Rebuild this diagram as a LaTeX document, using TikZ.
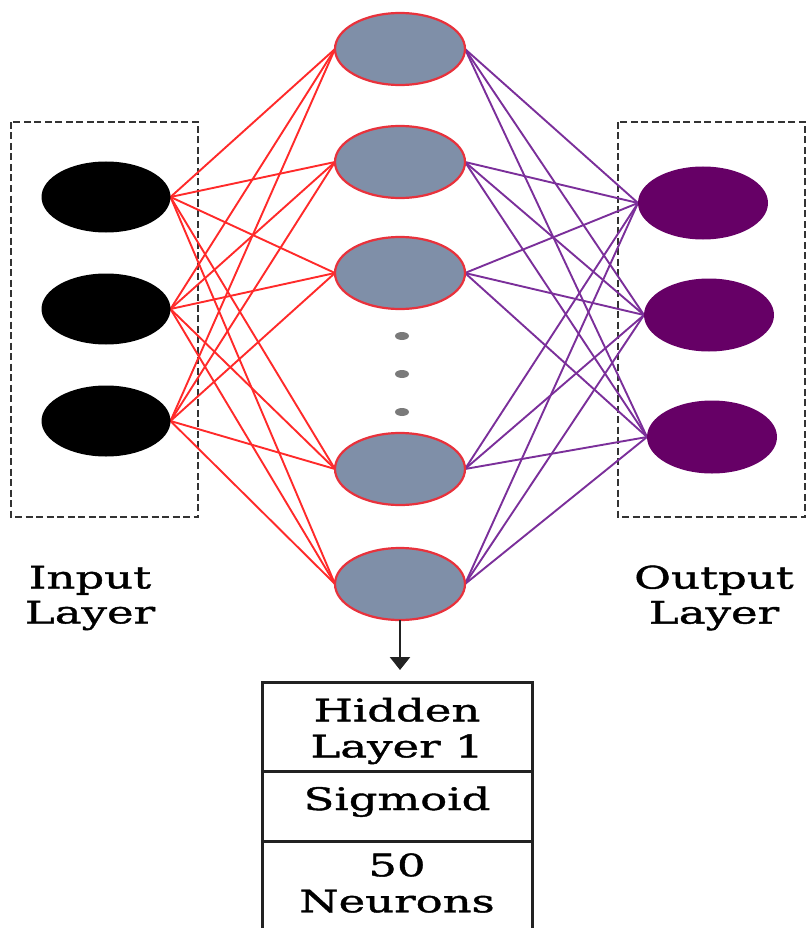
\documentclass[tikz,border=0pt]{standalone}
\usepackage{fontspec}
\setmainfont[FakeStretch=1.45,FakeBold=1.3]{DejaVu Serif}
\usetikzlibrary{shapes.geometric,arrows.meta,backgrounds}

\definecolor{hidfill}{HTML}{7F8FA8}
\definecolor{hidline}{HTML}{E8323C}
\definecolor{outfill}{HTML}{660066}
\definecolor{redline}{HTML}{FF2A2A}
\definecolor{purpline}{HTML}{7B2F9A}
\definecolor{framegray}{HTML}{333333}
\definecolor{tablegray}{HTML}{222222}
\definecolor{dotgray}{HTML}{7A7A7A}

\tikzset{
  neuron/.style={ellipse, minimum width=129pt, minimum height=71pt, inner sep=0pt, outer sep=0pt},
  inneuron/.style={neuron, fill=black},
  hidneuron/.style={neuron, minimum width=130pt, minimum height=72pt, fill=hidfill, draw=hidline, line width=2.2pt},
  outneuron/.style={neuron, minimum width=130pt, minimum height=73pt, fill=outfill},
  gapdot/.style={ellipse, minimum width=14pt, minimum height=8pt, inner sep=0pt, fill=dotgray},
  rededge/.style={draw=redline, line width=1.9pt},
  purpedge/.style={draw=purpline, line width=1.9pt},
  layerframe/.style={draw=framegray, line width=2.4pt, dash pattern=on 7pt off 3.5pt},
  tableline/.style={draw=tablegray, line width=3pt},
  label/.style={align=center, inner sep=0pt, font=\fontsize{31}{35}\selectfont},
  celltext/.style={align=center, inner sep=0pt, font=\fontsize{31}{36}\selectfont},
}

\begin{document}
\begin{tikzpicture}[x=1pt, y=-1pt]
\useasboundingbox (0,0) rectangle (807,928);

% input layer
\node[inneuron] (in1) at (106,197) {};
\node[inneuron] (in2) at (106,309) {};
\node[inneuron] (in3) at (106,421) {};

% hidden layer
\node[hidneuron] (h1) at (400,49) {};
\node[hidneuron] (h2) at (400,162) {};
\node[hidneuron] (h3) at (400,273) {};
\node[hidneuron] (h4) at (400,469) {};
\node[hidneuron] (h5) at (400,584) {};
\node[gapdot] (d1) at (402,336) {};
\node[gapdot] (d2) at (402,374) {};
\node[gapdot] (d3) at (402,412) {};

% output layer
\node[outneuron] (o1) at (703,203) {};
\node[outneuron] (o2) at (709,315) {};
\node[outneuron] (o3) at (712,437) {};

\begin{pgfonlayer}{background}
  \draw[layerframe] (11,122) rectangle (198,517);
  \draw[layerframe] (618,122) rectangle (805,517);
  \foreach \i in {1,2,3}
    \foreach \j in {1,...,5}
      \draw[rededge] (in\i.east) -- (h\j.west);
  \foreach \j in {1,...,5}
    \foreach \k in {1,2,3}
      \draw[purpedge] (h\j.east) -- (o\k.west);
\end{pgfonlayer}

% layer captions
\node[label] (inlabel) at (90,598) {Input\\Layer};
\node[label] (outlabel) at (714,598) {Output\\Layer};

% hidden layer summary table
\coordinate (tip) at (400,670);
\draw[tablegray, line width=2.6pt, -{Triangle[width=20pt,length=13pt]}] (h5.south) -- (tip);
\draw[tableline] (262,940) -- (262,682) -- (532,682) -- (532,940);
\draw[tableline] (262,771) -- (532,771);
\draw[tableline] (262,841) -- (532,841);
\node[celltext] (cellname) at (397,731) {Hidden\\Layer 1};
\node[celltext, anchor=base] (cellact) at (397,810) {Sigmoid};
\node[celltext] (cellsize) at (397,883) {50\\Neurons};
\end{tikzpicture}
\end{document}
